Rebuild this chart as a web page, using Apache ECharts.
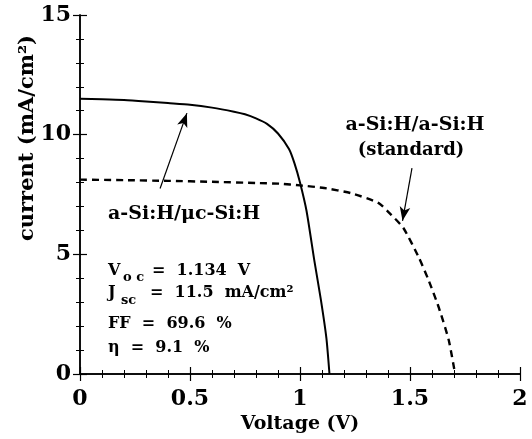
<!DOCTYPE html>
<html>
<head>
<meta charset="utf-8">
<script src="https://cdn.jsdelivr.net/npm/echarts@6/dist/echarts.min.js"></script>
<style>
html,body{margin:0;padding:0;background:#fff;}
#c{width:532px;height:439px;}
</style>
</head>
<body>
<div id="c"></div>
<script>
// ---- data ----
const voltMicro = [0, 0.1, 0.2, 0.3, 0.4, 0.5, 0.6, 0.7, 0.75, 0.8, 0.85, 0.9, 0.95, 0.975, 1.0, 1.03, 1.065, 1.095, 1.12, 1.134];
const curMicro  = [11.5, 11.48, 11.45, 11.39, 11.32, 11.25, 11.13, 10.96, 10.85, 10.68, 10.45, 10.05, 9.4, 8.8, 8.0, 6.8, 4.75, 3.1, 1.5, 0];
const voltStd = [0, 0.2, 0.4, 0.6, 0.8, 0.91, 1.0, 1.11, 1.23, 1.356, 1.416, 1.47, 1.539, 1.584, 1.63, 1.676, 1.705];
const curStd  = [8.12, 8.1, 8.07, 8.03, 7.98, 7.95, 7.88, 7.77, 7.56, 7.15, 6.64, 6.1, 4.89, 3.93, 2.8, 1.42, 0];
const xTickLabels = ['0', '0.5', '1', '1.5', '2'];
const yTickLabels = ['0', '5', '10', '15'];
// arrows (data coordinates): [from, to]
const arrowMicro = [[0.364, 7.75], [0.486, 10.9]];
const arrowStd = [[1.509, 8.6], [1.466, 6.4]];

const FONT = 'DejaVu Serif';
const zip = (a, b) => a.map((v, i) => [v, b[i]]);

const chart = echarts.init(document.getElementById('c'), null, {renderer: 'canvas'});
const axisLine = () => ({show: true, lineStyle: {color: '#000', width: 1.5}});
const tick = () => ({show: true, inside: true, length: 7, lineStyle: {color: '#000', width: 1.2}});
const minor = () => ({show: true, splitNumber: 5, length: 4, lineStyle: {color: '#000', width: 1}});
const labelStyle = {fontFamily: FONT, fontWeight: 'bold', fontSize: 22, color: '#000'};

const option = {
  animation: false,
  backgroundColor: '#fff',
  grid: {left: 80, right: 12, top: 15, bottom: 65},
  xAxis: [{
    type: 'value', min: 0, max: 2, interval: 0.5,
    axisLine: axisLine(), axisTick: tick(), minorTick: minor(), splitLine: {show: false},
    axisLabel: Object.assign({margin: 14, formatter: v => xTickLabels[Math.round(v / 0.5)]}, labelStyle),
    name: 'Voltage (V)', nameLocation: 'middle', nameGap: 33,
    nameTextStyle: {fontFamily: FONT, fontWeight: 'bold', fontSize: 19, color: '#000'}
  }, {
    type: 'value', position: 'top', min: 0, max: 2, interval: 0.5,
    axisLine: axisLine(), axisTick: tick(), minorTick: minor(), splitLine: {show: false},
    axisLabel: {show: false}
  }],
  yAxis: [{
    type: 'value', min: 0, max: 15, interval: 5,
    axisLine: axisLine(), axisTick: tick(), minorTick: minor(), splitLine: {show: false},
    axisLabel: Object.assign({margin: 9, formatter: v => yTickLabels[Math.round(v / 5)]}, labelStyle)
  }, {
    type: 'value', position: 'right', min: 0, max: 15, interval: 5,
    axisLine: axisLine(), axisTick: tick(), minorTick: minor(), splitLine: {show: false},
    axisLabel: {show: false}
  }],
  series: [{
    name: 'a-Si:H/μc-Si:H', type: 'line', data: zip(voltMicro, curMicro),
    showSymbol: false, smooth: 0.2, lineStyle: {color: '#000', width: 2},
    markLine: {
      silent: true, symbol: ['none', 'arrow'], symbolSize: [8, 14], label: {show: false},
      lineStyle: {color: '#000', width: 1.2, type: 'solid'},
      data: [[{coord: arrowMicro[0]}, {coord: arrowMicro[1]}]]
    }
  }, {
    name: 'a-Si:H/a-Si:H (standard)', type: 'line', data: zip(voltStd, curStd),
    showSymbol: false, smooth: 0.2, lineStyle: {color: '#000', width: 2.4, type: [7, 5]},
    markLine: {
      silent: true, symbol: ['none', 'arrow'], symbolSize: [8, 14], label: {show: false},
      lineStyle: {color: '#000', width: 1.2, type: 'solid'},
      data: [[{coord: arrowStd[0]}, {coord: arrowStd[1]}]]
    }
  }],
  graphic: [
    {type: 'text', x: 28, y: 138, rotation: Math.PI / 2,
     style: {text: 'current (mA/cm²)', font: 'bold 21px "DejaVu Serif"', fill: '#000', align: 'center', verticalAlign: 'middle'}},
    {type: 'text', x: 108, y: 205,
     style: {text: 'a-Si:H/μc-Si:H', font: 'bold 19px "DejaVu Serif"', fill: '#000'}},
    {type: 'text', x: 415, y: 125,
     style: {text: 'a-Si:H/a-Si:H', font: 'bold 19px "DejaVu Serif"', fill: '#000', align: 'center', verticalAlign: 'middle'}},
    {type: 'text', x: 411, y: 150,
     style: {text: '(standard)', font: 'bold 18px "DejaVu Serif"', fill: '#000', align: 'center', verticalAlign: 'middle'}},
    {type: 'text', x: 108, y: 263, style: {text: 'V', font: 'bold 16px "DejaVu Serif"', fill: '#000'}},
    {type: 'text', x: 123, y: 271, style: {text: 'o c', font: 'bold 13px "DejaVu Serif"', fill: '#000'}},
    {type: 'text', x: 152, y: 263, style: {text: '=  1.134  V', font: 'bold 16px "DejaVu Serif"', fill: '#000'}},
    {type: 'text', x: 108, y: 285, style: {text: 'J', font: 'bold 16px "DejaVu Serif"', fill: '#000'}},
    {type: 'text', x: 121, y: 294, style: {text: 'sc', font: 'bold 13px "DejaVu Serif"', fill: '#000'}},
    {type: 'text', x: 150, y: 285, style: {text: '=  11.5  mA/cm²', font: 'bold 16px "DejaVu Serif"', fill: '#000'}},
    {type: 'text', x: 108, y: 316, style: {text: 'FF  =  69.6  %', font: 'bold 16px "DejaVu Serif"', fill: '#000'}},
    {type: 'text', x: 108, y: 340, style: {text: 'η  =  9.1  %', font: 'bold 16px "DejaVu Serif"', fill: '#000'}}
  ]
};
chart.setOption(option);
</script>
</body>
</html>
